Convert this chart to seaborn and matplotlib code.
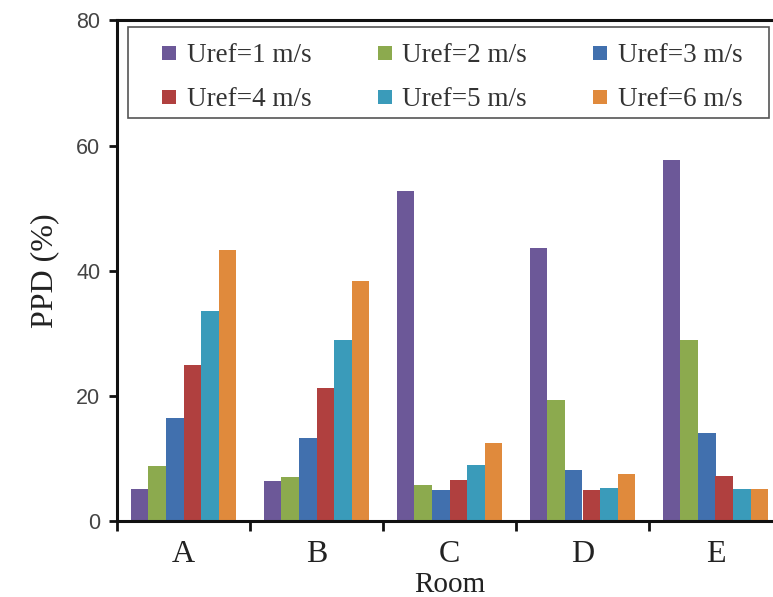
import matplotlib
matplotlib.use("Agg")
import matplotlib.pyplot as plt
from matplotlib.lines import Line2D
from matplotlib.patches import Rectangle
import seaborn as sns
import pandas as pd

# PPD (%) for each room at each reference wind speed
rooms = ["A", "B", "C", "D", "E"]
speeds = ["Uref=1 m/s", "Uref=2 m/s", "Uref=3 m/s",
          "Uref=4 m/s", "Uref=5 m/s", "Uref=6 m/s"]
u1 = [5.1, 6.4, 52.7, 43.7, 57.7]
u2 = [8.8, 7.0, 5.7, 19.3, 28.9]
u3 = [16.5, 13.2, 4.9, 8.2, 14.0]
u4 = [25.0, 21.2, 6.5, 4.9, 7.2]
u5 = [33.5, 29.0, 8.9, 5.2, 5.1]
u6 = [43.3, 38.3, 12.5, 7.5, 5.1]
yticks = [0, 20, 40, 60, 80]

colors = ["#6C5898", "#8CAA4E", "#4170AE", "#B0403F", "#3A9BBA", "#E08A3C"]

series = [u1, u2, u3, u4, u5, u6]
df = pd.DataFrame({
    "Room": [r for s in series for r in rooms],
    "Speed": [sp for sp, s in zip(speeds, series) for _ in rooms],
    "PPD": [v for s in series for v in s],
})

sns.set_style("white")
serif = ["Liberation Serif", "DejaVu Serif"]
sans = ["Liberation Sans", "DejaVu Sans"]

W, H = 773, 597
fig = plt.figure(figsize=(W / 100, H / 100), dpi=100)
ax = fig.add_axes([117 / W, 76 / H, 665 / W, 500.6 / H])

sns.barplot(data=df, x="Room", y="PPD", hue="Speed", order=rooms,
            hue_order=speeds, palette=colors, width=0.79, gap=0,
            linewidth=0, saturation=1, errorbar=None, ax=ax, legend=False)

ax.set_xlim(-0.5, 4.5)
ax.set_ylim(0, 80)

# frame
for side in ["left", "bottom", "top", "right"]:
    ax.spines[side].set_color("#111111")
    ax.spines[side].set_linewidth(2.2)

# y axis
ax.set_yticks(yticks)
ax.set_yticklabels([str(t) for t in yticks], family=sans, fontsize=15.5,
                   color="#444444")
ax.tick_params(axis="y", direction="out", length=6, width=2,
               color="#111111", pad=6, left=True)

# x axis: ticks at room boundaries, labels at room centres
ax.set_xticks([-0.5, 0.5, 1.5, 2.5, 3.5])
ax.set_xticklabels([])
ax.tick_params(axis="x", which="major", direction="out", length=7, width=2,
               color="#111111", bottom=True)
ax.set_xticks(range(len(rooms)), minor=True)
ax.set_xticklabels(rooms, minor=True, family=serif, fontsize=23,
                   color="#222222")
ax.tick_params(axis="x", which="minor", length=0, pad=14)

ax.set_xlabel("Room", family=serif, fontsize=21, color="#222222", labelpad=2)
ax.set_ylabel("PPD (%)", family=serif, fontsize=23, color="#222222",
              labelpad=12)

# legend box
fig.patches.append(Rectangle((128 / W, 1 - 118 / H), 641 / W, 91 / H,
                             transform=fig.transFigure, facecolor="white",
                             edgecolor="#555555", linewidth=1.2, zorder=3))

# legend entries, filled row by row
handles = [Line2D([], [], linestyle="none", marker="s", markersize=9.5,
                  markerfacecolor=c, markeredgewidth=0) for c in colors]
order = [0, 3, 1, 4, 2, 5]
leg = fig.legend([handles[i] for i in order], [speeds[i] for i in order],
                 ncol=3, loc="upper left",
                 bbox_to_anchor=(160 / W, 1 - 43 / H),
                 bbox_transform=fig.transFigure,
                 prop={"family": serif, "size": 19.5},
                 handlelength=0.7, handletextpad=0.3, borderpad=0,
                 labelspacing=0.72, columnspacing=2.35,
                 frameon=False, borderaxespad=0)
leg.set_zorder(4)
for t in leg.get_texts():
    t.set_color("#333333")

fig.savefig("out.png", dpi=100)
